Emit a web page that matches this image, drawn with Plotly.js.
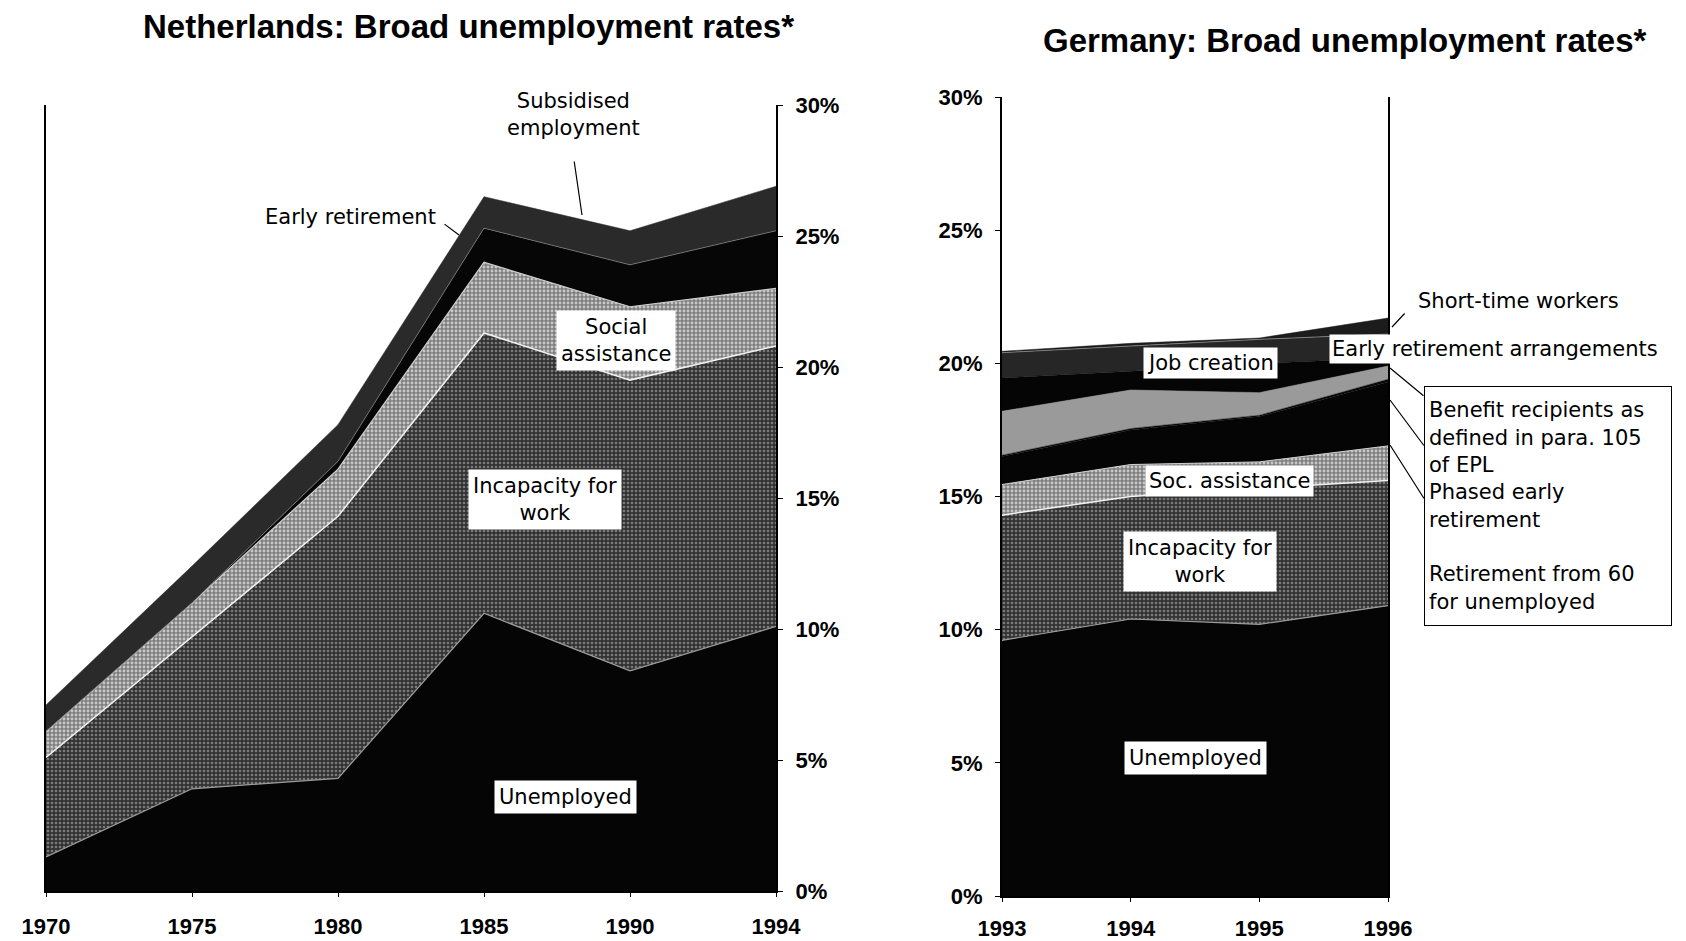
<!DOCTYPE html>
<html>
<head>
<meta charset="utf-8">
<script src="https://cdn.plot.ly/plotly-3.0.1.min.js"></script>
<style>
  html, body { margin: 0; padding: 0; background: #fff; }
  #chart { width: 1686px; height: 941px; }
</style>
</head>
<body>
<div id="chart"></div>
<script>
// ---------------- Netherlands (percentage points, stacked) ----------------
const nlYears = ['1970', '1975', '1980', '1985', '1990', '1994'];
const nlUnemployed = [1.3, 3.9, 4.3, 10.6, 8.4, 10.1];
const nlIncapacity = [3.8, 5.8, 10.0, 10.7, 11.1, 10.7];
const nlSocialAssistance = [1.0, 1.3, 1.8, 2.7, 2.8, 2.2];
const nlEarlyRetirement = [0.0, 0.0, 0.3, 1.3, 1.6, 2.2];
const nlSubsidised = [1.0, 1.4, 1.4, 1.2, 1.3, 1.7];

// ---------------- Germany (percentage points, stacked) ----------------
const deYears = ['1993', '1994', '1995', '1996'];
const deUnemployed = [9.6, 10.4, 10.2, 10.9];
const deIncapacity = [4.7, 4.6, 5.1, 4.7];
const deSocAssistance = [1.15, 1.2, 1.0, 1.3];
const deRetirement60 = [1.05, 1.3, 1.7, 2.4];
const dePhasedEarly = [0.05, 0.05, 0.05, 0.1];
const deBenefit105 = [1.65, 1.45, 0.85, 0.5];
const deEarlyRetArr = [1.25, 0.7, 1.1, 0.3];
const deJobCreation = [0.95, 0.95, 0.9, 0.9];
const deShortTime = [0.05, 0.1, 0.05, 0.6];

const yTicks = [0, 5, 10, 15, 20, 25, 30];

const W = 1686, H = 941;
const px = v => v / W;
const py = v => 1 - v / H;

const TICKFONT = {family: 'Liberation Sans Narrow, Liberation Sans, Arial, sans-serif', size: 22, color: '#000', weight: 'bold'};
const LABELFONT = {family: 'DejaVu Sans, sans-serif', size: 21, color: '#000'};
const TITLEFONT = {family: 'Liberation Sans Narrow, Liberation Sans, Arial, sans-serif', size: 33, color: '#000', weight: 'bold'};

const patDark = {shape: '.', bgcolor: '#323232', fgcolor: '#7a7a7a', size: 4, solidity: 0.35};
const patLight = {shape: '.', bgcolor: '#7e7e7e', fgcolor: '#c8c8c8', size: 4, solidity: 0.4};

function layer(x, y, xa, ya, group, name, fill, lineColor, lineWidth, pattern) {
  const t = {
    type: 'scatter', mode: 'lines', x: x, y: y, xaxis: xa, yaxis: ya,
    stackgroup: group, name: name, fillcolor: fill,
    line: {color: lineColor, width: lineWidth, shape: 'linear'},
    hoverinfo: 'skip', showlegend: false
  };
  if (pattern) t.fillpattern = pattern;
  return t;
}

const data = [
  layer(nlYears, nlUnemployed, 'x', 'y', 'nl', 'Unemployed', '#050505', '#9a9a9a', 1.2),
  layer(nlYears, nlIncapacity, 'x', 'y', 'nl', 'Incapacity for work', '#323232', '#f2f2f2', 1.5, patDark),
  layer(nlYears, nlSocialAssistance, 'x', 'y', 'nl', 'Social assistance', '#8a8a8a', '#cfcfcf', 1.2, patLight),
  layer(nlYears, nlEarlyRetirement, 'x', 'y', 'nl', 'Early retirement', '#060606', '#777777', 0.8),
  layer(nlYears, nlSubsidised, 'x', 'y', 'nl', 'Subsidised employment', '#2a2a2a', '#2a2a2a', 0.5),

  layer(deYears, deUnemployed, 'x2', 'y2', 'de', 'Unemployed', '#050505', '#9a9a9a', 1.2),
  layer(deYears, deIncapacity, 'x2', 'y2', 'de', 'Incapacity for work', '#323232', '#f2f2f2', 1.5, patDark),
  layer(deYears, deSocAssistance, 'x2', 'y2', 'de', 'Soc. assistance', '#8a8a8a', '#cfcfcf', 1.0, patLight),
  layer(deYears, deRetirement60, 'x2', 'y2', 'de', 'Retirement from 60 for unemployed', '#050505', '#050505', 0.5),
  layer(deYears, dePhasedEarly, 'x2', 'y2', 'de', 'Phased early retirement', '#0a0a0a', '#0a0a0a', 0.5),
  layer(deYears, deBenefit105, 'x2', 'y2', 'de', 'Benefit recipients as defined in para. 105 of EPL', '#9a9a9a', '#9a9a9a', 0.5),
  layer(deYears, deEarlyRetArr, 'x2', 'y2', 'de', 'Early retirement arrangements', '#050505', '#050505', 0.5),
  layer(deYears, deJobCreation, 'x2', 'y2', 'de', 'Job creation', '#262626', '#8a8a8a', 0.8),
  layer(deYears, deShortTime, 'x2', 'y2', 'de', 'Short-time workers', '#1c1c1c', '#1c1c1c', 0.5)
];

const baseX = {
  type: 'category', showline: true, linecolor: '#000', linewidth: 1.5,
  ticks: 'outside', ticklen: 4, tickcolor: '#000', tickwidth: 1,
  showgrid: false, zeroline: false, tickfont: TICKFONT, ticklabelstandoff: 11,
  fixedrange: true
};
const baseY = {
  range: [0, 30], tickvals: yTicks, ticktext: yTicks.map(v => v + '%'),
  showline: true, mirror: true, linecolor: '#000', linewidth: 2,
  ticks: 'outside', ticklen: 5, tickcolor: '#000', tickwidth: 1,
  showgrid: false, zeroline: false, tickfont: TICKFONT, ticklabelstandoff: 8,
  fixedrange: true
};

function label(text, cx, cy, opts) {
  return Object.assign({
    xref: 'paper', yref: 'paper', x: px(cx), y: py(cy),
    xanchor: 'center', yanchor: 'middle', text: text, showarrow: false,
    font: LABELFONT, bgcolor: '#ffffff', borderpad: 4, align: 'center'
  }, opts || {});
}
function leader(hx, hy, tx, ty) {
  return {
    xref: 'paper', yref: 'paper', x: px(hx), y: py(hy),
    ax: tx - hx, ay: ty - hy, text: '', showarrow: true,
    arrowhead: 0, arrowwidth: 1.2, arrowcolor: '#000'
  };
}

const annotations = [
  // titles
  {xref: 'paper', yref: 'paper', x: px(468), y: py(27), xanchor: 'center', yanchor: 'middle',
   text: 'Netherlands: Broad unemployment rates*', showarrow: false, font: TITLEFONT},
  {xref: 'paper', yref: 'paper', x: px(1344), y: py(40), xanchor: 'center', yanchor: 'middle',
   text: 'Germany: Broad unemployment rates*', showarrow: false, font: TITLEFONT},

  // Netherlands labels
  label('Subsidised<br>employment', 573, 115, {bgcolor: 'rgba(0,0,0,0)'}),
  label('Early retirement', 350, 217, {bgcolor: 'rgba(0,0,0,0)'}),
  label('Social<br>assistance', 616, 340),
  label('Incapacity for<br>work', 545, 499),
  label('Unemployed', 565, 797),
  leader(582, 215, 574, 160),
  leader(459, 235, 443, 223),

  // Germany labels
  label('Short-time workers', 1518, 301, {bgcolor: 'rgba(0,0,0,0)'}),
  label('Early retirement arrangements', 1495, 349, {borderpad: 2}),
  label('Job creation', 1210, 363, {borderpad: 3}),
  label('Soc. assistance', 1229, 481, {borderpad: 3}),
  label('Incapacity for<br>work', 1200, 561),
  label('Unemployed', 1195, 758),
  label('Benefit recipients as<br>defined in para. 105<br>of EPL<br>Phased early<br>retirement<br> <br>Retirement from 60<br>for unemployed',
        1548, 506, {align: 'left', bordercolor: '#000', borderwidth: 1, width: 238, height: 230,
                    valign: 'middle', font: Object.assign({}, LABELFONT, {size: 21})}),
  leader(1392, 327, 1406, 312),
  leader(1390, 368, 1425, 397),
  leader(1390, 400, 1425, 447),
  leader(1390, 445, 1425, 500)
];

const layout = {
  width: W, height: H,
  margin: {l: 0, r: 0, t: 0, b: 0},
  paper_bgcolor: '#ffffff', plot_bgcolor: 'rgba(0,0,0,0)',
  showlegend: false,
  xaxis: Object.assign({}, baseX, {domain: [px(46), px(776)], range: [0, nlYears.length - 1], anchor: 'y'}),
  yaxis: Object.assign({}, baseY, {domain: [py(891), py(105)], side: 'right', anchor: 'x'}),
  xaxis2: Object.assign({}, baseX, {domain: [px(1002), px(1388)], range: [0, deYears.length - 1], anchor: 'y2', ticklabelstandoff: 8}),
  yaxis2: Object.assign({}, baseY, {domain: [py(896), py(97)], side: 'left', anchor: 'x2'}),
  annotations: annotations
};

Plotly.newPlot('chart', data, layout, {staticPlot: true, displayModeBar: false});
</script>
</body>
</html>
